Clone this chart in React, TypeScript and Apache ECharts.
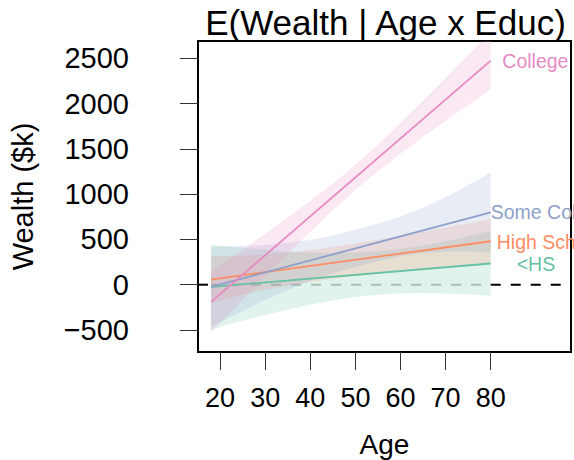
import React, { useEffect, useRef } from "react";
import * as echarts from "echarts";

// Ages at which the confidence bands were read
const bandAges = [18, 20, 25, 30, 35, 40, 45, 50, 55, 60, 65, 70, 75, 80];
// Ages at the ends of the fitted lines
const lineAges = [18, 80];

const groupNames = ["<HS", "High School", "Some College", "College"];
const groupColors = ["#66C2A5", "#FC8D62", "#8DA0CB", "#E78AC3"];

// Fitted values ($k) at lineAges
const lessHSFit = [-24, 234];
const highSchoolFit = [57, 480];
const someCollegeFit = [-24, 800];
const collegeFit = [-190, 2474];

// Confidence band bounds ($k) at bandAges
const lessHSLower = [-500, -463, -397, -335, -276, -222, -175, -137, -110, -95, -92, -97, -109, -122];
const lessHSUpper = [444, 431, 407, 387, 368, 356, 351, 355, 370, 397, 434, 481, 535, 595];
const highSchoolLower = [-203, -179, -110, -56, -10, 30, 65, 95, 122, 146, 170, 192, 215, 238];
const highSchoolUpper = [317, 321, 320, 334, 356, 384, 417, 455, 496, 542, 586, 632, 677, 722];
const someCollegeLower = [-464, -412, -291, -165, -58, 43, 124, 196, 259, 314, 350, 367, 368, 358];
const someCollegeUpper = [416, 418, 429, 435, 462, 493, 544, 606, 675, 754, 850, 967, 1098, 1242];
const collegeLower = [-525, -422, -165, 90, 341, 586, 822, 1045, 1252, 1446, 1630, 1808, 1983, 2156];
const collegeUpper = [145, 214, 387, 562, 741, 924, 1118, 1325, 1548, 1784, 2030, 2280, 2535, 2792];

const xTicks = [20, 30, 40, 50, 60, 70, 80];
const yTicks = [-500, 0, 500, 1000, 1500, 2000, 2500];

const X_MIN = 15.1;
const X_MAX = 97.8;
const Y_MIN = -743;
const Y_MAX = 2691;

const FONT = "'Liberation Sans', Arial, Helvetica, sans-serif";

export default function App() {
  const ref = useRef<HTMLDivElement>(null);

  useEffect(() => {
    if (!ref.current) return;
    const chart = echarts.init(ref.current, undefined, { renderer: "svg" });

    const fits = [lessHSFit, highSchoolFit, someCollegeFit, collegeFit];
    const lowers = [lessHSLower, highSchoolLower, someCollegeLower, collegeLower];
    const uppers = [lessHSUpper, highSchoolUpper, someCollegeUpper, collegeUpper];
    const labelOffsets: [number, number][] = [
      [26, 0],
      [6, 1],
      [0, 0],
      [11.6, 0],
    ];

    const series: any[] = [];

    // zero reference line (dashed): black outside the bands, grey within
    const dashSeg = (x0: number, x1: number, color: string) => ({
      type: "line",
      data: [
        [x0, 0],
        [x1, 0],
      ],
      symbol: "none",
      silent: true,
      lineStyle: { color, width: 2, type: [10, 10] },
      z: 1,
    });
    series.push(dashSeg(X_MIN, lineAges[0], "#000000"));
    series.push(dashSeg(lineAges[0], lineAges[1], "#bdbdbd"));
    series.push(dashSeg(lineAges[1], X_MAX, "#000000"));

    groupNames.forEach((name, i) => {
      series.push({
        type: "custom",
        name: name + " band",
        silent: true,
        z: 2,
        data: bandAges.map((a, k) => [a, lowers[i][k], uppers[i][k]]),
        encode: { x: 0, y: [1, 2] },
        renderItem: (params: any, api: any) => {
          if (params.dataIndex !== 0) return null;
          const up = bandAges.map((a, k) => api.coord([a, uppers[i][k]]));
          const lo = bandAges.map((a, k) => api.coord([a, lowers[i][k]])).reverse();
          const cs = params.coordSys;
          return {
            type: "polygon",
            shape: { points: up.concat(lo) },
            style: { fill: groupColors[i], opacity: 0.2 },
            clipPath: {
              type: "rect",
              shape: { x: cs.x, y: cs.y, width: cs.width, height: cs.height },
            },
          };
        },
      });
    });

    groupNames.forEach((name, i) => {
      series.push({
        type: "line",
        name,
        data: lineAges.map((a, k) => [a, fits[i][k]]),
        symbol: "none",
        silent: true,
        lineStyle: { color: groupColors[i], width: 1.8 },
        z: 3,
        endLabel: {
          show: true,
          formatter: name,
          color: groupColors[i],
          fontSize: 19.5,
          fontFamily: FONT,
          distance: 0,
          offset: labelOffsets[i],
          align: "left",
          verticalAlign: "middle",
        },
      });
    });

    chart.setOption({
      animation: false,
      backgroundColor: "#ffffff",
      title: {
        text: "E(Wealth | Age x Educ)",
        left: 380.5,
        top: 0,
        textAlign: "center",
        textStyle: {
          fontSize: 35,
          fontWeight: "normal",
          color: "#000",
          fontFamily: FONT,
        },
      },
      grid: {
        left: 198,
        right: 3,
        top: 41,
        bottom: 108,
        show: true,
        borderColor: "#000",
        borderWidth: 2,
        backgroundColor: "transparent",
        containLabel: false,
        outerBoundsMode: "none",
      },
      xAxis: {
        type: "value",
        min: X_MIN,
        max: X_MAX,
        name: "Age",
        nameLocation: "middle",
        nameGap: 78,
        nameTextStyle: { fontSize: 28, color: "#000", fontFamily: FONT },
        axisLine: { show: false, onZero: false },
        splitLine: { show: false },
        axisTick: {
          show: true,
          inside: false,
          length: 18,
          customValues: xTicks,
          lineStyle: { color: "#333", width: 1 },
        },
        axisLabel: {
          customValues: xTicks,
          fontSize: 27,
          color: "#000",
          fontFamily: FONT,
          margin: 32,
        },
      },
      yAxis: {
        type: "value",
        min: Y_MIN,
        max: Y_MAX,
        name: "Wealth ($k)",
        nameLocation: "middle",
        nameGap: 161,
        nameRotate: 90,
        nameTextStyle: { fontSize: 29, color: "#000", fontFamily: FONT },
        axisLine: { show: false, onZero: false },
        splitLine: { show: false },
        axisTick: {
          show: true,
          inside: false,
          length: 18,
          customValues: yTicks,
          lineStyle: { color: "#333", width: 1 },
        },
        axisLabel: {
          customValues: yTicks,
          fontSize: 29,
          color: "#000",
          fontFamily: FONT,
          margin: 69,
          formatter: (v: number) => (v < 0 ? "\u2212" + Math.abs(v) : String(v)),
        },
      },
      series,
    });

    return () => chart.dispose();
  }, []);

  return (
    <div
      ref={ref}
      style={{ position: "absolute", left: 0, top: 0, width: 574, height: 460 }}
    />
  );
}
